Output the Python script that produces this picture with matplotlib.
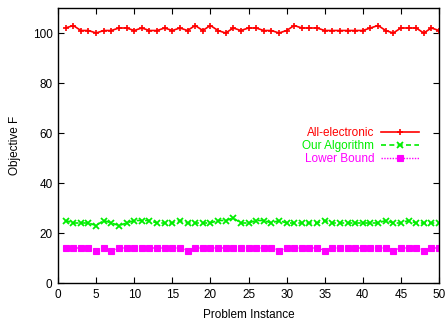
import matplotlib
matplotlib.use("Agg")
import matplotlib.pyplot as plt
import numpy as np

plt.rcParams['font.family'] = ['Liberation Sans', 'DejaVu Sans']

instances = list(range(1, 51))
all_electronic = [102, 103, 101, 101, 100, 101, 101, 102, 102, 101,
                  102, 101, 101, 102, 101, 102, 101, 103, 101, 103,
                  101, 100, 102, 101, 102, 102, 101, 101, 100, 101,
                  103, 102, 102, 102, 101, 101, 101, 101, 101, 101,
                  102, 103, 101, 100, 102, 102, 102, 100, 102, 101]
our_algorithm = [25, 24, 24, 24, 23, 25, 24, 23, 24, 25,
                 25, 25, 24, 24, 24, 25, 24, 24, 24, 24,
                 25, 25, 26, 24, 24, 25, 25, 24, 25, 24,
                 24, 24, 24, 24, 25, 24, 24, 24, 24, 24,
                 24, 24, 25, 24, 24, 25, 24, 24, 24, 24]
lower_bound = [14, 14, 14, 14, 13, 14, 13, 14, 14, 14,
               14, 14, 14, 14, 14, 14, 13, 14, 14, 14,
               14, 14, 14, 14, 14, 14, 14, 14, 13, 14,
               14, 14, 14, 14, 13, 14, 14, 14, 14, 14,
               14, 14, 14, 13, 14, 14, 14, 13, 14, 14]

series_names = ["All-electronic", "Our Algorithm", "Lower Bound"]
x_ticks = [0, 5, 10, 15, 20, 25, 30, 35, 40, 45, 50]
y_ticks = [0, 20, 40, 60, 80, 100]

fig = plt.figure(figsize=(4.46, 3.21), dpi=100)
ax = fig.add_axes([58/446, 38/321, (439-58)/446, (283-8)/321])

red = '#ff0000'
green = '#00ee00'
magenta = '#ff00ff'

l1, = ax.plot(instances, all_electronic, color=red, lw=1.2, marker='+', ms=5, mew=1.2)
l2, = ax.plot(instances, our_algorithm, color=green, lw=1.2, ls=(0, (3, 2)), marker='x', ms=4, mew=1.3)
l3, = ax.plot(instances, lower_bound, color=magenta, lw=1.0, ls=(0, (1, 1)), marker='s', ms=4, mew=0.8)

ax.set_xlim(0, 50)
ax.set_ylim(0, 110)
ax.set_xticks(x_ticks)
ax.set_yticks(y_ticks)
ax.tick_params(direction='in', top=True, right=True, labelsize=8.5, length=4, width=0.8, pad=4)
for s in ax.spines.values():
    s.set_linewidth(1.0)
ax.set_xlabel("Problem Instance", fontsize=8.5, labelpad=6)
ax.set_ylabel("Objective F", fontsize=8.5, labelpad=8)

leg = ax.legend([l1, l2, l3], series_names, loc='upper right', bbox_to_anchor=(0.96, 0.585),
                frameon=False, fontsize=8.5, markerfirst=False, handlelength=3.2,
                handletextpad=0.6, labelspacing=0.1, borderaxespad=0)
for txt, c in zip(leg.get_texts(), [red, green, magenta]):
    txt.set_color(c)

fig.savefig("out.png", dpi=100)
